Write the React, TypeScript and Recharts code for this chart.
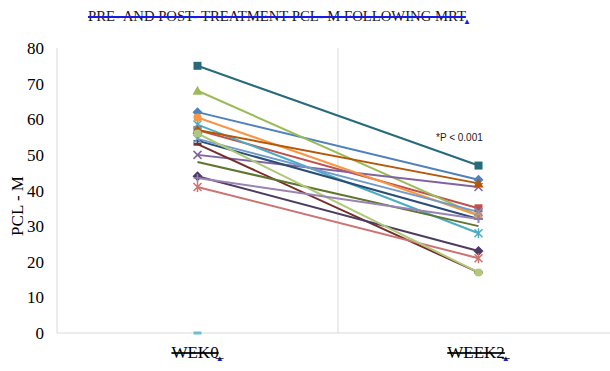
import React from 'react';
import { LineChart, Line, XAxis, YAxis, CartesianGrid } from 'recharts';

const categories = ['WEK0', 'WEEK2'];

// one entry per patient
const week0 = [62, 57, 68, 50, 58.5, 60.5, 54, 53, 48, 44, 75, 57, 54.5, 41, 56, 43.5, 0];
const week2 = [43, 35, 33, 41, 28, 33, 32, 17, 30, 23, 47, 42, 34, 21, 17, 32, null];

const seriesColors = [
  '#4F81BD', '#C0504D', '#9BBB59', '#8064A2', '#4BACC6', '#F79646',
  '#2C4D75', '#772C2A', '#5F7530', '#4D3B62', '#276A7C', '#B65708',
  '#729ACA', '#CD7371', '#AFC97A', '#9983B5', '#6FBDD1',
];
const seriesMarkers = [
  'diamond', 'square', 'triangle', 'x', 'star', 'circle',
  'plus', 'dash', 'none', 'diamond', 'square', 'triangle',
  'x', 'star', 'circle', 'plus', 'dash',
];

const yTicks = [0, 10, 20, 30, 40, 50, 60, 70, 80];

const data = categories.map((name, i) => {
  const row: Record<string, any> = { name };
  week0.forEach((_, s) => {
    row[`p${s}`] = i === 0 ? week0[s] : week2[s];
  });
  return row;
});

const Marker = ({ cx, cy, shape, color }: any) => {
  if (cx == null || cy == null) return <g />;
  const r = 4;
  switch (shape) {
    case 'diamond':
      return <path d={`M${cx},${cy - r - 1}L${cx + r + 1},${cy}L${cx},${cy + r + 1}L${cx - r - 1},${cy}Z`} fill={color} />;
    case 'square':
      return <rect x={cx - r} y={cy - r} width={r * 2} height={r * 2} fill={color} />;
    case 'triangle':
      return <path d={`M${cx},${cy - r - 1}L${cx + r + 1},${cy + r}L${cx - r - 1},${cy + r}Z`} fill={color} />;
    case 'circle':
      return <circle cx={cx} cy={cy} r={r} fill={color} />;
    case 'x':
      return (
        <path d={`M${cx - r},${cy - r}L${cx + r},${cy + r}M${cx - r},${cy + r}L${cx + r},${cy - r}`} stroke={color} strokeWidth={1.5} />
      );
    case 'star':
      return (
        <path
          d={`M${cx - r},${cy - r}L${cx + r},${cy + r}M${cx - r},${cy + r}L${cx + r},${cy - r}M${cx},${cy - r - 1}L${cx},${cy + r + 1}`}
          stroke={color}
          strokeWidth={1.5}
        />
      );
    case 'plus':
      return <path d={`M${cx - r},${cy}L${cx + r},${cy}M${cx},${cy - r}L${cx},${cy + r}`} stroke={color} strokeWidth={1.5} />;
    case 'dash':
      return <rect x={cx - r} y={cy - 1.5} width={r * 2} height={3} fill={color} />;
    default:
      return <g />;
  }
};

const XTick = ({ x, y, payload }: any) => (
  <g>
    <text
      x={x}
      y={y}
      dy={17}
      textAnchor="middle"
      fill="#000"
      fontSize={17}
      fontFamily="Liberation Serif, serif"
      style={{ textDecoration: 'line-through', textDecorationColor: '#1a1ae6' } as any}
    >
      {payload.value}
      <tspan fill="#1a1ae6" fontSize={8} dx={-3} dy={3}>▲</tspan>
    </text>
  </g>
);

export default function App() {
  return (
    <div style={{ position: 'absolute', left: 0, top: 0, width: 610, height: 371, overflow: 'hidden', background: '#fff' }}>
      <div
        style={{
          position: 'absolute',
          left: 88,
          top: 8,
          whiteSpace: 'nowrap',
          fontFamily: 'Liberation Serif, serif',
          fontSize: 14.7,
          color: '#1a1a1a',
        }}
      >
        <span style={{ textDecoration: 'line-through', textDecorationColor: '#1a1ae6', textDecorationThickness: 2 }}>
          PRE- AND POST- TREATMENT PCL- M FOLLOWING MRT
        </span>
        <span style={{ color: '#1a1ae6', fontSize: 8, marginLeft: -3, verticalAlign: -3 }}>▲</span>
      </div>
      <div
        style={{
          position: 'absolute',
          left: 18,
          top: 206,
          transform: 'translate(-50%, -50%) rotate(-90deg)',
          whiteSpace: 'nowrap',
          fontFamily: 'Liberation Serif, serif',
          fontSize: 17,
          color: '#000',
        }}
      >
        PCL - M
      </div>
      <div
        style={{
          position: 'absolute',
          left: 436,
          top: 132,
          whiteSpace: 'nowrap',
          fontFamily: 'Liberation Sans, sans-serif',
          fontSize: 10,
          color: '#1a1a1a',
        }}
      >
        *P &lt; 0.001
      </div>
      <LineChart width={620} height={371} data={data} margin={{ top: 48, right: 1, bottom: 0, left: 0 }}>
        <CartesianGrid
          horizontal={false}
          stroke="#d9d9d9"
          verticalCoordinatesGenerator={({ offset }: any) => [offset.left + offset.width / 2]}
        />
        <XAxis
          dataKey="name"
          scale="band"
          height={38}
          interval={0}
          axisLine={{ stroke: '#d9d9d9' }}
          tickLine={false}
          tick={<XTick />}
        />
        <YAxis
          domain={[0, 80]}
          ticks={yTicks}
          width={57}
          axisLine={{ stroke: '#d9d9d9' }}
          tickLine={false}
          tickMargin={7}
          tick={{ fill: '#000', fontSize: 17, fontFamily: 'Liberation Serif, serif' }}
        />
        {week0.map((_, s) => (
          <Line
            key={s}
            dataKey={`p${s}`}
            stroke={seriesColors[s]}
            strokeWidth={2}
            isAnimationActive={false}
            dot={(props: any) => (
              <Marker key={`${s}-${props.index}`} cx={props.cx} cy={props.cy} shape={seriesMarkers[s]} color={seriesColors[s]} />
            )}
            activeDot={false}
          />
        ))}
      </LineChart>
    </div>
  );
}
